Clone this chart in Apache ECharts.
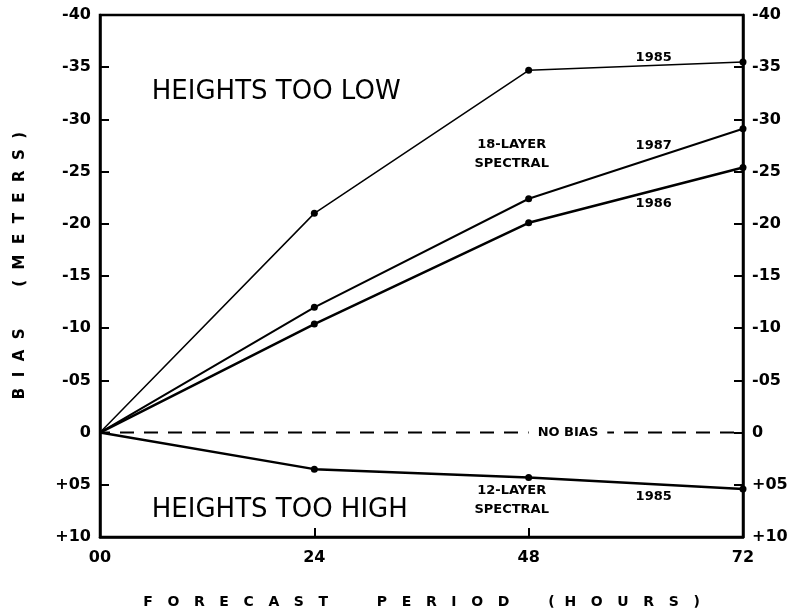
<!DOCTYPE html>
<html>
<head>
<meta charset="utf-8">
<script src="https://cdn.jsdelivr.net/npm/echarts@6/dist/echarts.min.js"></script>
<style>
  html, body { margin: 0; padding: 0; background: #fff; }
  #chart { width: 788px; height: 615px; }
</style>
</head>
<body>
<div id="chart"></div>
<script>
// Forecast period (hours)
const hours = [0, 24, 48, 72];
// 500 mb height bias (meters); negative = heights too low
const spectral18_1985 = [0, -21.0, -34.7, -35.5];
const spectral18_1987 = [0, -12.0, -22.4, -29.1];
const spectral18_1986 = [0, -10.4, -20.1, -25.4];
const spectral12_1985 = [0, 3.5, 4.3, 5.4];
const noBias = [0, 0];
const noBiasHours = [0, 72];

// Axis ranges
const yMin = -40, yMax = 10, yStep = 5;

// Text annotations: [hour, bias, text]
const bigNotes = [
  [5.8, -32.6, 'HEIGHTS TOO LOW'],
  [5.8, 7.4, 'HEIGHTS TOO HIGH']
];
const smallNotes = [
  [46.1, -26.7, '18-LAYER\nSPECTRAL'],
  [62.0, -35.95, '1985'],
  [62.0, -27.45, '1987'],
  [62.0, -21.96, '1986'],
  [46.1, 6.45, '12-LAYER\nSPECTRAL'],
  [62.0, 6.14, '1985']
];
const gapNotes = [[52.4, 0, 'NO BIAS']];

const boldFont = 'DejaVu Sans';

function yLabel(v) {
  if (v === 0) return '0';
  const a = Math.abs(v);
  const s = a < 10 ? '0' + a : String(a);
  return (v < 0 ? '-' : '+') + s;
}
function xLabel(v) {
  return v < 10 ? '0' + v : String(v);
}
function pairs(xs, ys) {
  return xs.map((x, i) => i === 0 ? { value: [x, ys[i]], symbolSize: 0 } : [x, ys[i]]);
}

function curve(ys, width) {
  return {
    type: 'line',
    data: pairs(hours, ys),
    symbol: 'circle',
    symbolSize: 7,
    showAllSymbol: true,
    itemStyle: { color: '#000' },
    lineStyle: { color: '#000', width: width },
    z: 3
  };
}

function notes(list, label) {
  return {
    type: 'scatter',
    data: list.map(n => ({ value: [n[0], n[1]], name: n[2] })),
    symbolSize: 0,
    itemStyle: { color: '#000', opacity: 1 },
    label: Object.assign({ show: true, formatter: p => p.name, color: '#000' }, label),
    emphasis: { disabled: true },
    silent: true,
    z: 5
  };
}

const yAxisBase = {
  type: 'value',
  min: yMin,
  max: yMax,
  interval: yStep,
  inverse: true,
  splitLine: { show: false },
  axisLine: { show: true, onZero: false, lineStyle: { color: '#000', width: 2.5 } },
  axisTick: { show: true, inside: true, length: 9, lineStyle: { color: '#000', width: 2 } },
  axisLabel: {
    formatter: yLabel,
    color: '#000',
    fontFamily: boldFont,
    fontWeight: 'bold',
    fontSize: 16,
    margin: 9
  }
};

const chart = echarts.init(document.getElementById('chart'));
chart.setOption({
  backgroundColor: '#fff',
  animation: false,
  grid: {
    left: 100, right: 45, top: 15, bottom: 78,
    outerBoundsMode: 'none',
    show: true, borderColor: '#000', borderWidth: 2.5, backgroundColor: 'transparent'
  },
  xAxis: {
    type: 'value',
    min: 0,
    max: 72,
    interval: 24,
    splitLine: { show: false },
    axisLine: { show: true, onZero: false, lineStyle: { color: '#000', width: 2.5 } },
    axisTick: { show: true, inside: true, length: 9, lineStyle: { color: '#000', width: 2 } },
    axisLabel: {
      formatter: xLabel,
      color: '#000',
      fontFamily: boldFont,
      fontWeight: 'bold',
      fontSize: 16,
      margin: 13
    },
    name: 'F   O   R   E   C   A   S   T          P   E   R   I   O   D        (  H   O   U   R   S   )',
    nameLocation: 'middle',
    nameGap: 58,
    nameTextStyle: { color: '#000', fontFamily: boldFont, fontWeight: 'bold', fontSize: 14 }
  },
  yAxis: [
    Object.assign({}, yAxisBase, {
      position: 'left',
      name: '    B  I  A  S        (  M  E  T  E  R  S  )',
      nameLocation: 'middle',
      nameGap: 72,
      nameRotate: 90,
      nameTextStyle: { color: '#000', fontFamily: boldFont, fontWeight: 'bold', fontSize: 15 }
    }),
    Object.assign({}, yAxisBase, {
      position: 'right',
      axisLabel: Object.assign({}, yAxisBase.axisLabel, { margin: 9 })
    })
  ],
  series: [
    curve(spectral18_1985, 1.5),
    curve(spectral18_1987, 2),
    curve(spectral18_1986, 2.5),
    curve(spectral12_1985, 2.5),
    {
      type: 'line',
      data: noBiasHours.map((h, i) => [h, noBias[i]]),
      symbol: 'none',
      lineStyle: { color: '#000', width: 2, type: [14, 10], dashOffset: -20 },
      z: 2
    },
    notes(gapNotes, {
      position: 'inside', fontFamily: boldFont, fontWeight: 'bold', fontSize: 13,
      backgroundColor: '#fff', padding: [2, 9]
    }),
    notes(smallNotes, {
      position: 'inside', fontFamily: boldFont, fontWeight: 'bold', fontSize: 13,
      lineHeight: 19, align: 'center'
    }),
    notes(bigNotes, {
      position: 'right', distance: 0, fontFamily: 'DejaVu Sans', fontSize: 26
    })
  ]
});
</script>
</body>
</html>
